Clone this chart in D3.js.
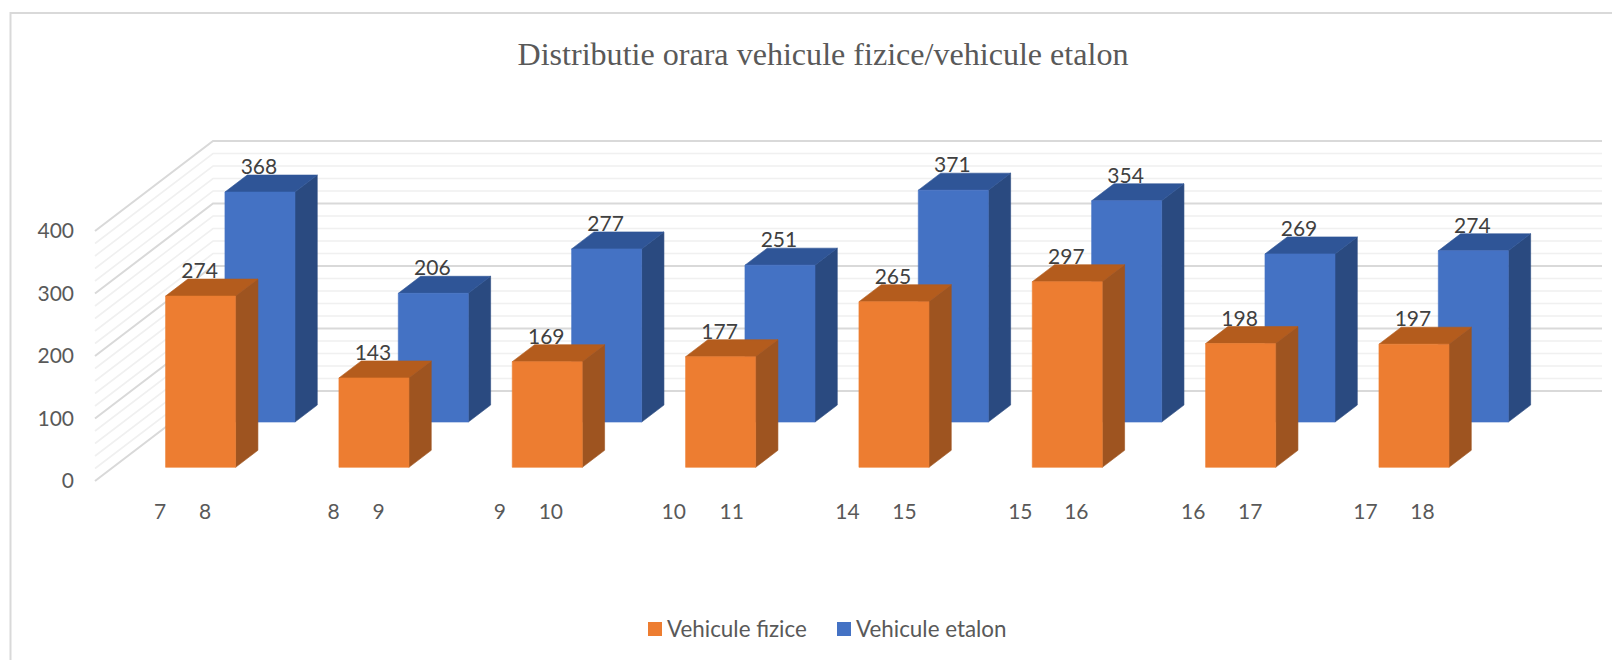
<!DOCTYPE html>
<html><head><meta charset="utf-8">
<script src="https://cdn.jsdelivr.net/npm/d3@7"></script>
<style>html,body{margin:0;padding:0;background:#fff}svg{display:block}</style>
</head><body><svg id="c" width="1612" height="660"></svg>
<script>
const titleText = "Distributie orara vehicule fizice/vehicule etalon";
const hourFrom = ["7","8","9","10","14","15","16","17"];
const hourTo   = ["8","9","10","11","15","16","17","18"];
const fizice = [274,143,169,177,265,297,198,197];
const etalon = [368,206,277,251,371,354,269,274];
const seriesNames = ["Vehicule fizice","Vehicule etalon"];
const yTicks = [0,100,200,300,400];
const minorTicks = d3.range(0,401,20);
const frontColors = ["#ED7D31","#4472C4"];
const sideColors = ["#9E5420","#2A4A80"];
const topColors = ["#B45C1D","#2F5597"];

const svg = d3.select("#c");
const FONT = "Lato, 'Noto Sans', sans-serif";
svg.append("rect").attr("x",10.5).attr("y",13).attr("width",1700).attr("height",800)
  .attr("fill","#fff").attr("stroke","#d9d9d9").attr("stroke-width",2);

const x = d3.scaleBand().domain(d3.range(8)).range([96,1482.7]).paddingInner(0.596).paddingOuter(0.298);
const h = d3.scaleLinear().domain([0,400]).range([0,250]);
const depthX = d3.scaleLinear().domain([0,1]).range([0,118]);
const depthY = d3.scaleLinear().domain([0,1]).range([481,391]);
const series = [{v:fizice,t0:0.152,t1:0.341,c:0},{v:etalon,t0:0.655,t1:0.844,c:1}];
const P = (px,val,t)=>[px+depthX(t), depthY(t)-h(val)];
const path = pts=>"M"+pts.map(p=>p.join(",")).join("L")+"Z";

// walls
const g = svg.append("g");
minorTicks.forEach(v=>{
  const major = v%100===0;
  const a=P(95,v,0), b=P(95,v,1), c=[1602,b[1]];
  g.append("polyline").attr("points",[a,b,c].map(p=>p.join(",")).join(" "))
   .attr("fill","none").attr("stroke",major?"#d9d9d9":"#f0f0f0").attr("stroke-width",major?2:1.6);
});
// y axis labels
svg.append("g").selectAll("text").data(yTicks).join("text")
  .attr("x",74).attr("y",d=>depthY(0)-h(d)).attr("dy","0.35em").attr("text-anchor","end")
  .attr("font-family",FONT).attr("font-size",21).attr("fill","#595959").text(d=>d);

// bars, back series first
[series[1],series[0]].forEach(s=>{
  const G = svg.append("g").attr("stroke-width",0.6);
  const w = x.bandwidth();
  s.v.forEach((val,i)=>{
    const l=x(i), r=l+w;
    G.append("path").attr("fill",sideColors[s.c]).attr("stroke",sideColors[s.c]).attr("d",path([P(r,0,s.t0),P(r,0,s.t1),P(r,val,s.t1),P(r,val,s.t0)]));
    G.append("path").attr("fill",topColors[s.c]).attr("stroke",topColors[s.c]).attr("d",path([P(l,val,s.t0),P(l,val,s.t1),P(r,val,s.t1),P(r,val,s.t0)]));
    G.append("path").attr("fill",frontColors[s.c]).attr("stroke",frontColors[s.c]).attr("d",path([P(l,0,s.t0),P(r,0,s.t0),P(r,val,s.t0),P(l,val,s.t0)]));
  });
});
// value labels
series.forEach(s=>{
  svg.append("g").selectAll("text").data(s.v).join("text")
   .attr("x",(d,i)=>P(x(i)+x.bandwidth()/2,d,s.t0)[0]-1)
   .attr("y",d=>P(0,d,s.t1)[1]-1)
   .attr("text-anchor","middle").attr("font-family",FONT).attr("font-size",21)
   .attr("fill","#404040").text(d=>d);
});
// category labels
const lab = svg.append("g").attr("font-family",FONT).attr("font-size",21).attr("fill","#595959").attr("text-anchor","middle");
const gaps = [45,45,51,58,57,56,57,57];
const nudge = [0,0,-4,0,0,-1,-1,-2];
hourFrom.forEach((f,i)=>{
  const cx = x(i)+x.bandwidth()/2+nudge[i];
  lab.append("text").attr("x",cx-gaps[i]/2).attr("y",518.5).text(f);
  lab.append("text").attr("x",cx+gaps[i]/2).attr("y",518.5).text(hourTo[i]);
});
// title
svg.append("text").attr("x",823).attr("y",65).attr("text-anchor","middle")
  .attr("font-family","'Liberation Serif',serif").attr("font-size",32.1).attr("fill","#595959").text(titleText);
// legend
const lx=[648,837];
seriesNames.forEach((n,i)=>{
  svg.append("rect").attr("x",lx[i]).attr("y",622).attr("width",14).attr("height",14).attr("fill",frontColors[i]);
  svg.append("text").attr("x",lx[i]+19).attr("y",636.5).attr("font-family",FONT).attr("font-size",22.4).attr("fill","#595959").text(n);
});
</script></body></html>
